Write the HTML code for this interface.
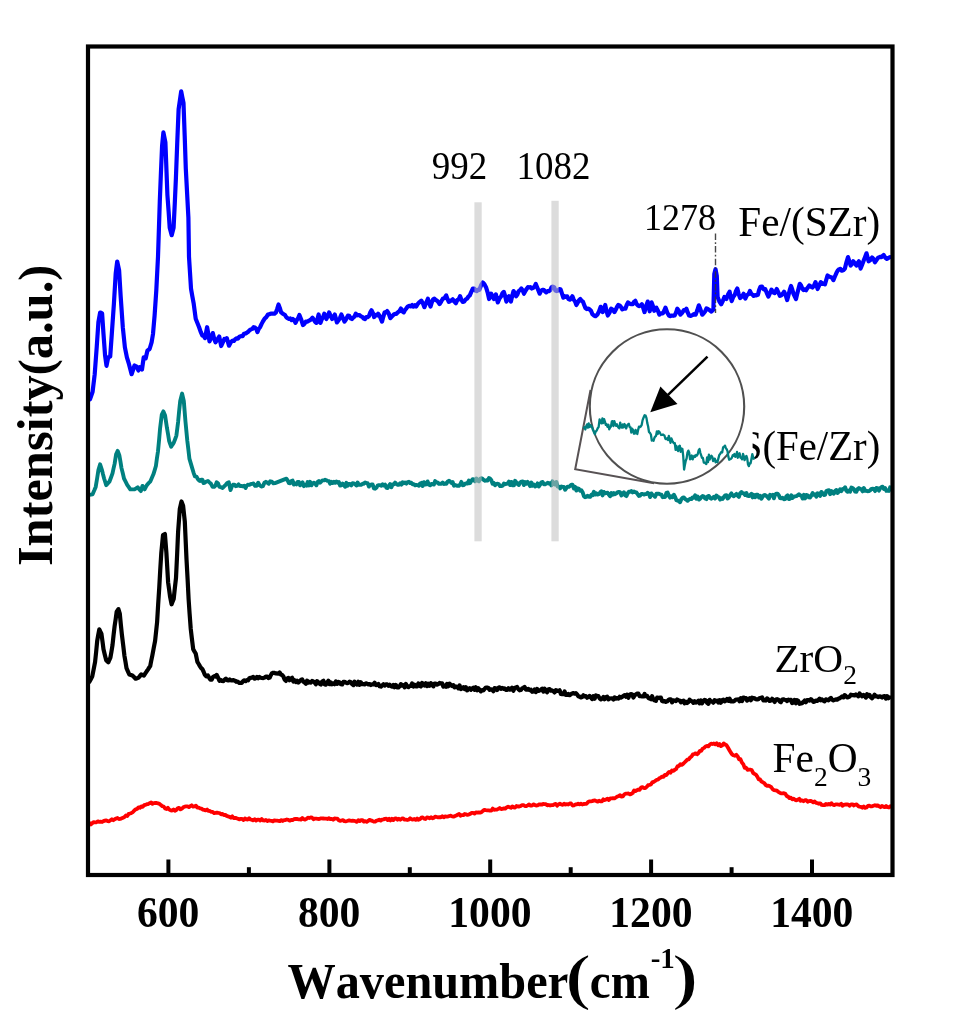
<!DOCTYPE html>
<html><head><meta charset="utf-8"><title>Raman spectra</title>
<style>
html,body{margin:0;padding:0;background:#fff;}
body{width:954px;height:1035px;overflow:hidden;}
svg{display:block;filter:blur(0.45px);}
text{font-family:"Liberation Serif","Times New Roman",serif;fill:#000;font-kerning:none;}
.b{font-weight:bold;}
.curve{fill:none;stroke-linejoin:round;stroke-linecap:round;}
</style></head><body>
<svg width="954" height="1035" viewBox="0 0 954 1035">
<rect width="954" height="1035" fill="#fff"/>
<!-- curves -->
<path class="curve" d="M88.1,824.5 L89.5,823.1 L90.9,824.5 L92.3,823.1 L93.7,822.1 L95.1,822.3 L96.5,822.3 L97.9,821.3 L99.3,821.9 L100.7,821.7 L102.1,822.0 L103.5,821.1 L104.9,820.6 L106.3,820.3 L107.7,821.1 L109.1,821.3 L110.5,820.3 L111.9,819.3 L113.3,820.2 L114.7,819.2 L116.1,818.5 L117.5,818.0 L118.9,819.0 L120.3,818.9 L121.7,818.3 L123.1,817.7 L124.5,817.1 L125.9,815.5 L127.3,816.0 L128.7,813.9 L130.1,813.5 L131.5,812.9 L132.9,812.1 L134.3,810.5 L135.7,809.3 L137.1,808.9 L138.5,807.3 L139.9,807.8 L141.3,806.4 L142.7,806.8 L144.1,805.2 L145.5,804.9 L146.9,804.2 L148.3,804.0 L149.7,803.1 L151.1,802.4 L152.5,803.8 L153.9,803.1 L155.3,802.9 L156.7,803.0 L158.1,803.4 L159.5,803.8 L160.9,805.1 L162.3,806.2 L163.7,806.5 L165.1,808.5 L166.5,809.0 L167.9,807.8 L169.3,809.6 L170.7,810.3 L172.1,810.5 L173.5,809.5 L174.9,810.7 L176.3,810.0 L177.7,808.3 L179.1,807.8 L180.5,809.4 L181.9,808.6 L183.3,807.3 L184.7,806.6 L186.1,806.4 L187.5,806.3 L188.9,807.1 L190.3,806.1 L191.7,805.3 L193.1,806.6 L194.5,806.4 L195.9,805.6 L197.3,807.5 L198.7,807.6 L200.1,808.4 L201.5,808.7 L202.9,809.6 L204.3,809.9 L205.7,810.4 L207.1,809.5 L208.5,810.9 L209.9,811.0 L211.3,811.9 L212.7,811.8 L214.1,813.1 L215.5,812.9 L216.9,812.6 L218.3,812.9 L219.7,813.1 L221.1,814.3 L222.5,813.9 L223.9,815.0 L225.3,814.9 L226.7,815.9 L228.1,816.4 L229.5,816.8 L230.9,817.7 L232.3,816.3 L233.7,818.1 L235.1,817.8 L236.5,818.2 L237.9,818.7 L239.3,819.4 L240.7,818.8 L242.1,818.9 L243.5,820.0 L244.9,818.4 L246.3,819.4 L247.7,819.5 L249.1,818.3 L250.5,819.5 L251.9,819.8 L253.3,820.4 L254.7,819.2 L256.1,820.5 L257.5,819.7 L258.9,819.7 L260.3,820.6 L261.7,819.0 L263.1,820.4 L264.5,820.5 L265.9,820.0 L267.3,821.1 L268.7,820.3 L270.1,820.6 L271.5,820.8 L272.9,821.4 L274.3,820.4 L275.7,820.7 L277.1,820.6 L278.5,820.8 L279.9,821.2 L281.3,820.1 L282.7,821.0 L284.1,820.1 L285.5,820.1 L286.9,819.5 L288.3,819.8 L289.7,820.7 L291.1,820.0 L292.5,820.2 L293.9,819.2 L295.3,819.0 L296.7,818.8 L298.1,819.3 L299.5,819.4 L300.9,819.6 L302.3,818.1 L303.7,819.2 L305.1,819.6 L306.5,818.9 L307.9,817.7 L309.3,818.0 L310.7,817.4 L312.1,817.7 L313.5,819.2 L314.9,818.6 L316.3,818.6 L317.7,818.8 L319.1,819.0 L320.5,818.4 L321.9,818.3 L323.3,818.5 L324.7,818.7 L326.1,818.7 L327.5,819.0 L328.9,818.2 L330.3,819.1 L331.7,818.9 L333.1,819.7 L334.5,818.5 L335.9,818.7 L337.3,818.6 L338.7,820.2 L340.1,820.9 L341.5,820.5 L342.9,820.1 L344.3,821.1 L345.7,821.3 L347.1,821.0 L348.5,820.5 L349.9,820.5 L351.3,820.8 L352.7,820.6 L354.1,820.8 L355.5,821.3 L356.9,821.9 L358.3,820.2 L359.7,821.1 L361.1,820.1 L362.5,820.1 L363.9,821.6 L365.3,821.2 L366.7,821.8 L368.1,820.9 L369.5,819.8 L370.9,820.4 L372.3,820.9 L373.7,821.6 L375.1,821.7 L376.5,820.6 L377.9,820.3 L379.3,819.6 L380.7,820.6 L382.1,819.7 L383.5,819.4 L384.9,818.9 L386.3,818.7 L387.7,820.0 L389.1,818.8 L390.5,820.4 L391.9,818.7 L393.3,820.1 L394.7,818.7 L396.1,818.3 L397.5,819.7 L398.9,818.8 L400.3,819.7 L401.7,818.7 L403.1,818.3 L404.5,819.7 L405.9,819.7 L407.3,820.0 L408.7,819.7 L410.1,818.3 L411.5,819.3 L412.9,819.5 L414.3,819.0 L415.7,819.9 L417.1,818.5 L418.5,819.8 L419.9,819.3 L421.3,817.7 L422.7,817.4 L424.1,818.6 L425.5,819.0 L426.9,817.4 L428.3,817.6 L429.7,818.4 L431.1,817.2 L432.5,818.4 L433.9,817.7 L435.3,816.6 L436.7,817.0 L438.1,817.4 L439.5,817.1 L440.9,817.4 L442.3,816.2 L443.7,817.3 L445.1,816.4 L446.5,816.7 L447.9,816.6 L449.3,816.0 L450.7,815.7 L452.1,816.4 L453.5,816.6 L454.9,816.1 L456.3,815.5 L457.7,814.7 L459.1,814.0 L460.5,815.7 L461.9,815.1 L463.3,815.2 L464.7,814.0 L466.1,814.3 L467.5,814.9 L468.9,814.5 L470.3,813.8 L471.7,812.9 L473.1,812.8 L474.5,813.6 L475.9,812.3 L477.3,812.6 L478.7,812.3 L480.1,812.6 L481.5,812.2 L482.9,810.9 L484.3,809.9 L485.7,810.2 L487.1,810.3 L488.5,810.4 L489.9,810.7 L491.3,810.6 L492.7,808.6 L494.1,809.8 L495.5,809.7 L496.9,809.6 L498.3,808.9 L499.7,808.0 L501.1,809.0 L502.5,808.8 L503.9,808.4 L505.3,808.7 L506.7,807.4 L508.1,806.6 L509.5,807.3 L510.9,807.8 L512.3,806.4 L513.7,807.3 L515.1,807.6 L516.5,806.0 L517.9,806.5 L519.3,806.5 L520.7,806.0 L522.1,805.2 L523.5,805.1 L524.9,806.0 L526.3,806.1 L527.7,805.3 L529.1,804.4 L530.5,805.7 L531.9,805.6 L533.3,804.4 L534.7,804.9 L536.1,805.5 L537.5,805.4 L538.9,804.5 L540.3,804.3 L541.7,804.7 L543.1,804.0 L544.5,804.1 L545.9,804.2 L547.3,805.4 L548.7,805.0 L550.1,805.5 L551.5,805.1 L552.9,805.2 L554.3,804.3 L555.7,803.9 L557.1,805.7 L558.5,804.4 L559.9,803.6 L561.3,804.5 L562.7,804.9 L564.1,803.7 L565.5,804.5 L566.9,804.1 L568.3,804.5 L569.7,803.5 L571.1,803.5 L572.5,805.5 L573.9,805.4 L575.3,804.5 L576.7,804.4 L578.1,803.6 L579.5,804.4 L580.9,803.6 L582.3,804.5 L583.7,804.0 L585.1,803.8 L586.5,803.9 L587.9,802.2 L589.3,801.3 L590.7,801.4 L592.1,801.1 L593.5,800.6 L594.9,800.3 L596.3,801.1 L597.7,801.7 L599.1,800.7 L600.5,801.4 L601.9,801.3 L603.3,799.3 L604.7,800.1 L606.1,799.5 L607.5,798.7 L608.9,800.0 L610.3,798.3 L611.7,798.4 L613.1,798.2 L614.5,798.4 L615.9,797.5 L617.3,796.5 L618.7,796.1 L620.1,795.2 L621.5,796.5 L622.9,796.3 L624.3,794.4 L625.7,793.6 L627.1,793.6 L628.5,793.5 L629.9,794.4 L631.3,793.9 L632.7,793.0 L634.1,790.5 L635.5,791.1 L636.9,790.2 L638.3,789.6 L639.7,789.8 L641.1,787.6 L642.5,787.1 L643.9,788.0 L645.3,788.1 L646.7,786.9 L648.1,785.2 L649.5,784.9 L650.9,784.5 L652.3,782.4 L653.7,781.9 L655.1,781.0 L656.5,779.9 L657.9,779.7 L659.3,778.3 L660.7,777.6 L662.1,776.6 L663.5,776.8 L664.9,774.8 L666.3,775.2 L667.7,773.3 L669.1,771.9 L670.5,772.7 L671.9,770.5 L673.3,770.9 L674.7,769.9 L676.1,769.0 L677.5,766.4 L678.9,765.9 L680.3,764.3 L681.7,764.9 L683.1,763.9 L684.5,762.5 L685.9,761.1 L687.3,759.7 L688.7,759.4 L690.1,757.5 L691.5,756.5 L692.9,754.4 L694.3,754.0 L695.7,753.3 L697.1,754.2 L698.5,753.0 L699.9,750.8 L701.3,750.8 L702.7,748.6 L704.1,747.9 L705.5,746.5 L706.9,745.9 L708.3,746.4 L709.7,744.8 L711.1,743.6 L712.5,744.0 L713.9,743.5 L715.3,744.4 L716.7,743.2 L718.1,745.3 L719.5,744.1 L720.9,746.1 L722.3,745.3 L723.7,743.4 L725.1,744.5 L726.5,745.2 L727.9,747.5 L729.3,750.0 L730.7,752.4 L732.1,754.4 L733.5,755.3 L734.9,755.8 L736.3,754.8 L737.7,756.4 L739.1,759.3 L740.5,759.2 L741.9,762.6 L743.3,764.2 L744.7,767.9 L746.1,767.7 L747.5,769.8 L748.9,769.6 L750.3,769.7 L751.7,770.0 L753.1,772.9 L754.5,773.9 L755.9,774.7 L757.3,776.7 L758.7,779.3 L760.1,779.5 L761.5,781.6 L762.9,782.3 L764.3,783.1 L765.7,785.0 L767.1,785.8 L768.5,785.6 L769.9,786.3 L771.3,787.2 L772.7,789.3 L774.1,790.1 L775.5,790.3 L776.9,790.6 L778.3,791.9 L779.7,792.7 L781.1,793.4 L782.5,793.4 L783.9,793.2 L785.3,793.8 L786.7,796.1 L788.1,796.6 L789.5,798.1 L790.9,797.7 L792.3,799.4 L793.7,798.7 L795.1,799.9 L796.5,800.3 L797.9,799.7 L799.3,798.8 L800.7,800.8 L802.1,800.3 L803.5,801.2 L804.9,800.2 L806.3,800.2 L807.7,801.7 L809.1,801.1 L810.5,800.8 L811.9,801.4 L813.3,802.3 L814.7,801.5 L816.1,802.9 L817.5,803.2 L818.9,803.8 L820.3,803.3 L821.7,804.9 L823.1,805.1 L824.5,805.2 L825.9,804.0 L827.3,804.7 L828.7,804.0 L830.1,804.6 L831.5,803.2 L832.9,804.7 L834.3,805.1 L835.7,804.3 L837.1,804.4 L838.5,804.6 L839.9,804.8 L841.3,803.8 L842.7,805.8 L844.1,804.6 L845.5,804.5 L846.9,804.3 L848.3,804.6 L849.7,805.8 L851.1,804.3 L852.5,804.3 L853.9,805.5 L855.3,804.6 L856.7,804.5 L858.1,806.1 L859.5,806.6 L860.9,806.9 L862.3,807.7 L863.7,806.5 L865.1,807.8 L866.5,807.5 L867.9,805.9 L869.3,805.7 L870.7,806.4 L872.1,806.3 L873.5,805.7 L874.9,805.2 L876.3,805.8 L877.7,805.4 L879.1,806.4 L880.5,807.2 L881.9,805.9 L883.3,806.7 L884.7,807.2 L886.1,806.0 L887.5,807.2 L888.9,807.5 L890.3,806.3" stroke="#ff0000" stroke-width="3.8"/>
<path class="curve" d="M89.4,681.8 L90.8,679.2 L92.2,676.6 L93.7,669.2 L95.1,661.9 L96.2,651.4 L97.2,640.9 L98.2,635.1 L99.3,629.4 L100.3,631.5 L101.4,633.6 L102.5,641.5 L103.5,649.3 L104.8,654.8 L106.2,660.2 L107.2,661.2 L108.3,662.3 L109.3,660.0 L110.4,657.7 L111.5,651.4 L112.5,645.1 L113.5,635.7 L114.6,626.3 L115.7,619.0 L116.7,611.6 L118.4,609.1 L119.8,613.7 L120.8,624.2 L121.9,634.7 L123.2,645.2 L124.4,655.6 L125.5,661.9 L126.5,668.2 L127.9,671.4 L129.3,674.5 L130.9,675.0 L132.4,675.5 L134.0,677.1 L135.6,678.7 L137.1,678.2 L138.7,677.6 L139.9,676.0 L141.2,674.5 L142.6,675.0 L143.9,675.5 L145.3,673.4 L146.7,671.3 L147.9,669.6 L149.0,667.8 L150.2,666.1 L151.2,660.9 L152.3,655.6 L153.7,648.2 L155.1,640.9 L156.1,631.5 L157.1,622.1 L158.1,605.3 L159.2,588.5 L160.2,570.7 L161.3,552.9 L163.0,535.1 L164.9,534.0 L166.4,552.9 L168.1,582.2 L169.1,589.5 L170.1,596.9 L171.6,604.3 L172.6,601.6 L173.7,599.0 L174.8,588.5 L176.0,578.1 L177.1,555.0 L178.1,531.9 L179.8,508.9 L181.5,501.5 L183.1,505.7 L184.8,521.4 L186.5,559.2 L187.6,579.1 L188.6,599.0 L189.6,613.7 L190.7,628.4 L191.9,638.8 L193.2,649.3 L194.4,651.4 L195.7,653.5 L197.4,661.9 L198.7,664.0 L199.9,666.1 L201.2,668.2 L202.4,669.2 L203.5,671.5 L204.7,674.5 L206.3,676.3 L207.9,675.5 L209.2,677.8 L210.4,679.7 L211.7,679.7 L212.9,677.0 L214.2,676.2 L215.4,676.6 L216.7,674.9 L218.1,677.7 L219.4,680.8 L220.7,679.9 L222.1,681.0 L223.4,681.2 L224.7,679.7 L225.9,678.7 L227.2,680.2 L228.4,680.5 L229.7,679.5 L230.9,680.4 L232.2,680.4 L233.6,680.1 L234.9,680.6 L236.2,681.8 L237.6,681.5 L239.0,682.8 L240.4,682.9 L241.7,682.9 L243.0,681.2 L244.3,680.3 L245.6,681.2 L246.9,680.0 L248.1,680.3 L249.4,678.2 L250.6,677.8 L251.9,677.6 L253.2,676.9 L254.4,678.7 L255.7,678.2 L256.9,676.9 L258.2,678.3 L259.5,677.0 L260.7,677.7 L262.0,678.0 L263.2,678.1 L264.5,677.6 L265.8,676.5 L267.1,676.7 L268.4,678.1 L269.7,677.6 L270.8,675.2 L271.8,673.4 L273.2,672.8 L274.6,672.9 L276.0,673.4 L278.4,673.7 L279.6,672.5 L280.9,674.5 L282.1,675.0 L283.4,676.4 L284.6,679.5 L285.9,680.9 L287.1,678.6 L288.4,677.9 L289.6,680.2 L290.9,678.5 L292.1,677.8 L293.4,681.6 L294.6,680.3 L295.9,682.0 L297.1,680.7 L298.4,682.6 L299.6,681.2 L300.9,680.0 L302.1,679.4 L303.4,681.7 L304.6,682.4 L305.9,683.7 L307.1,680.6 L308.4,682.6 L309.6,681.9 L310.9,682.5 L312.1,681.0 L313.4,681.5 L314.6,682.5 L315.9,684.3 L317.1,681.1 L318.4,682.3 L319.6,683.7 L320.9,684.6 L322.1,681.5 L323.4,680.8 L324.6,684.2 L325.9,684.7 L327.1,682.7 L328.4,680.8 L329.6,684.2 L330.9,682.4 L332.1,684.3 L333.4,683.4 L334.6,684.2 L335.9,681.5 L337.1,683.9 L338.4,681.8 L339.6,682.4 L340.9,684.3 L342.1,684.5 L343.4,681.8 L344.6,681.8 L345.9,682.6 L347.1,683.2 L348.4,682.7 L349.6,681.6 L350.9,682.1 L352.1,684.1 L353.4,685.1 L354.6,681.7 L355.9,683.5 L357.1,684.6 L358.4,681.8 L359.6,684.9 L360.9,682.3 L362.1,684.1 L363.4,684.1 L364.6,684.5 L365.9,683.3 L367.1,683.7 L368.4,684.5 L369.6,684.0 L370.9,685.0 L372.1,684.3 L373.4,684.3 L374.6,682.7 L375.9,685.1 L377.1,684.9 L378.4,684.0 L379.6,686.2 L380.9,686.6 L382.1,685.5 L383.4,684.3 L384.6,685.6 L385.9,684.3 L387.1,684.4 L388.4,685.8 L389.6,684.7 L390.9,686.1 L392.1,686.7 L393.4,684.9 L394.6,687.2 L395.9,685.0 L397.1,687.3 L398.4,687.5 L399.6,686.3 L400.9,684.1 L402.1,685.6 L403.4,685.1 L404.6,687.3 L405.9,684.0 L407.1,686.5 L408.4,687.1 L409.6,686.0 L410.9,686.0 L412.1,683.5 L413.4,686.5 L414.6,684.8 L415.9,686.5 L417.1,686.5 L418.4,683.4 L419.6,685.7 L420.9,686.5 L422.1,683.0 L423.4,683.8 L424.6,685.6 L425.9,683.3 L427.1,686.1 L428.4,683.8 L429.6,685.8 L430.9,683.2 L432.1,684.5 L433.4,686.4 L434.6,683.7 L435.9,683.7 L437.1,684.7 L438.4,684.1 L439.6,682.9 L440.9,683.4 L442.1,683.4 L443.4,686.6 L444.6,685.9 L445.9,686.8 L447.1,683.9 L448.4,686.2 L449.6,683.7 L450.9,685.2 L452.1,686.0 L453.4,685.1 L454.6,687.4 L455.9,686.5 L457.1,686.8 L458.4,688.3 L459.6,685.5 L460.9,689.1 L462.1,688.2 L463.4,687.3 L464.6,689.1 L465.9,687.3 L467.1,690.4 L468.4,689.1 L469.6,688.2 L470.9,689.8 L472.1,688.7 L473.4,687.6 L474.6,689.9 L475.9,687.3 L477.1,690.3 L478.4,688.3 L479.6,689.8 L480.9,691.4 L482.1,690.0 L483.4,690.3 L484.6,688.9 L485.9,687.5 L487.1,687.5 L488.4,687.9 L489.6,689.9 L490.9,689.4 L492.1,689.6 L493.4,691.2 L494.6,688.2 L495.9,688.3 L497.1,690.1 L498.4,687.7 L499.6,687.3 L500.9,688.8 L502.1,687.9 L503.4,688.8 L504.6,688.4 L505.9,689.8 L507.1,689.9 L508.4,688.2 L509.6,689.7 L510.9,689.2 L512.1,687.6 L513.4,690.7 L514.6,688.1 L515.9,687.4 L517.1,687.0 L518.4,689.2 L519.6,690.3 L520.9,690.0 L522.1,688.4 L523.4,687.8 L524.6,686.9 L525.9,689.6 L527.1,689.7 L528.4,688.9 L529.6,690.2 L530.9,689.7 L532.1,691.8 L533.4,691.4 L534.6,689.5 L535.9,692.1 L537.1,689.0 L538.4,690.9 L539.6,690.5 L540.9,689.7 L542.1,688.8 L543.4,691.6 L544.6,688.7 L545.9,690.6 L547.1,692.3 L548.4,689.2 L549.6,689.0 L550.9,690.7 L552.1,690.4 L553.4,691.3 L554.6,692.4 L555.9,690.1 L557.1,690.7 L558.4,691.0 L559.6,690.3 L560.9,694.0 L562.1,694.2 L563.4,694.2 L564.6,691.5 L565.9,694.9 L567.1,695.0 L568.4,694.0 L569.6,695.2 L570.9,694.3 L572.1,693.4 L573.4,693.0 L574.6,693.7 L575.9,693.1 L577.1,694.4 L578.4,696.4 L579.6,696.6 L580.9,697.4 L582.1,697.0 L583.4,695.3 L584.6,696.4 L585.9,696.2 L587.1,697.7 L588.4,696.9 L589.6,695.9 L590.9,697.5 L592.1,699.1 L593.4,696.2 L594.6,698.7 L595.9,695.4 L597.1,696.1 L598.4,696.2 L599.6,698.3 L600.9,699.4 L602.1,698.7 L603.4,697.0 L604.6,699.2 L605.9,697.1 L607.1,696.6 L608.4,699.4 L609.6,698.4 L610.9,698.5 L612.1,698.3 L613.4,699.5 L614.6,697.4 L615.9,698.6 L617.1,698.0 L618.4,698.6 L619.6,696.8 L620.9,697.7 L622.1,697.0 L623.4,695.8 L624.6,695.2 L625.9,696.7 L627.1,694.6 L628.4,697.8 L629.6,694.8 L630.9,694.0 L632.1,694.2 L633.4,697.6 L634.6,695.4 L635.9,694.3 L637.1,693.7 L638.4,693.6 L639.6,696.2 L640.9,696.2 L642.1,696.4 L643.4,696.5 L644.6,694.0 L645.9,696.2 L647.1,695.8 L648.4,698.0 L649.6,698.5 L650.9,699.2 L652.1,696.2 L653.4,699.6 L654.6,700.4 L655.9,700.9 L657.1,697.6 L658.4,697.9 L659.6,697.7 L660.9,697.6 L662.1,701.1 L663.4,701.5 L664.6,701.0 L665.9,701.9 L667.1,701.4 L668.4,700.1 L669.6,699.3 L670.9,699.4 L672.1,702.4 L673.4,700.4 L674.6,700.6 L675.9,701.1 L677.1,699.5 L678.4,700.3 L679.6,700.5 L680.9,702.3 L682.1,701.0 L683.4,700.7 L684.6,703.3 L685.9,701.7 L687.1,703.0 L688.4,702.1 L689.6,699.6 L690.9,701.0 L692.1,701.3 L693.4,702.8 L694.6,701.2 L695.9,702.6 L697.1,702.1 L698.4,700.8 L699.6,703.4 L700.9,700.5 L702.1,703.3 L703.4,700.8 L704.6,699.8 L705.9,700.4 L707.1,702.8 L708.4,703.8 L709.6,699.8 L710.9,701.4 L712.1,701.5 L713.4,702.7 L714.6,700.2 L715.9,701.2 L717.1,700.6 L718.4,702.5 L719.6,700.2 L720.9,702.7 L722.1,700.2 L723.4,699.6 L724.6,701.4 L725.9,700.7 L727.1,699.0 L728.4,700.9 L729.6,698.7 L730.9,701.4 L732.1,701.2 L733.4,701.5 L734.6,700.8 L735.9,699.5 L737.1,699.5 L738.4,699.4 L739.6,701.3 L740.9,698.1 L742.1,701.0 L743.4,697.6 L744.6,697.9 L745.9,698.0 L747.1,700.6 L748.4,699.0 L749.6,698.3 L750.9,700.2 L752.1,697.6 L753.4,698.1 L754.6,698.4 L755.9,699.2 L757.1,699.4 L758.4,699.1 L759.6,698.0 L760.9,698.0 L762.1,697.4 L763.4,700.4 L764.6,700.1 L765.9,700.5 L767.1,698.4 L768.4,699.4 L769.6,701.0 L770.9,700.6 L772.1,698.8 L773.4,700.1 L774.6,702.0 L775.9,699.6 L777.1,699.2 L778.4,699.7 L779.6,701.4 L780.9,702.2 L782.1,699.5 L783.4,699.3 L784.6,699.7 L785.9,700.1 L787.1,701.0 L788.4,699.6 L789.6,700.2 L790.9,699.8 L792.1,703.1 L793.4,702.5 L794.6,699.9 L795.9,703.3 L797.1,700.2 L798.4,701.1 L799.6,703.8 L800.9,703.4 L802.1,703.1 L803.4,701.9 L804.6,700.6 L805.9,702.2 L807.1,700.0 L808.4,700.1 L809.6,700.7 L810.9,699.1 L812.1,700.3 L813.4,701.9 L814.6,701.5 L815.9,700.6 L817.1,700.9 L818.4,700.1 L819.6,698.6 L820.9,700.3 L822.1,699.5 L823.4,700.7 L824.6,701.4 L825.9,699.4 L827.1,699.7 L828.4,700.3 L829.6,698.9 L830.9,697.9 L832.1,699.7 L833.4,700.4 L834.6,699.9 L835.9,699.3 L837.1,699.7 L838.4,698.8 L839.6,698.3 L840.9,697.3 L842.1,696.4 L843.4,697.4 L844.6,695.1 L845.9,696.0 L847.1,697.4 L848.4,697.1 L849.6,696.5 L850.9,694.7 L852.1,695.1 L853.4,695.0 L854.6,695.5 L855.9,694.5 L857.1,695.3 L858.4,696.3 L859.6,693.5 L860.9,695.3 L862.1,696.2 L863.4,694.9 L864.6,695.4 L865.9,697.6 L867.1,694.2 L868.4,696.1 L869.6,694.9 L870.9,697.4 L872.1,698.3 L873.4,696.6 L874.6,694.7 L875.9,696.4 L877.1,696.4 L878.4,697.1 L879.6,696.3 L880.9,696.8 L882.1,697.6 L883.4,696.3 L884.6,696.1 L885.9,698.6 L887.1,696.1 L888.4,698.2 L889.6,697.5" stroke="#000" stroke-width="4.2"/>
<path class="curve" d="M89.4,494.9 L91.0,494.6 L92.6,494.3 L94.2,490.6 L95.7,486.9 L97.1,478.5 L98.4,470.1 L100.1,464.3 L102.0,470.1 L103.0,474.3 L104.1,478.5 L105.2,481.9 L106.2,485.2 L107.8,483.4 L109.4,481.7 L111.0,477.5 L112.5,473.3 L113.5,468.6 L114.6,463.9 L116.1,454.4 L117.7,450.9 L119.4,455.5 L120.5,461.8 L121.5,468.1 L122.8,473.3 L124.0,478.5 L125.6,481.6 L127.2,484.8 L128.8,487.1 L130.3,489.4 L131.7,489.4 L133.1,489.4 L134.5,489.4 L136.1,488.4 L137.7,487.3 L139.2,489.2 L140.8,491.1 L142.5,485.9 L143.6,487.6 L144.6,489.4 L145.8,487.1 L147.1,484.8 L148.6,483.2 L150.2,481.7 L151.8,478.0 L153.4,474.3 L154.7,470.1 L155.9,466.0 L156.9,458.6 L158.0,451.3 L159.1,439.8 L160.1,428.2 L161.8,414.6 L163.4,411.4 L165.1,415.6 L167.0,428.2 L168.1,434.5 L169.1,440.8 L170.1,443.8 L171.2,446.7 L172.4,444.8 L173.7,442.9 L175.1,439.2 L176.4,435.6 L178.1,421.9 L179.1,411.4 L180.2,401.0 L182.1,393.6 L183.8,401.0 L185.5,421.9 L187.3,440.8 L188.4,449.7 L189.4,458.6 L190.8,463.4 L192.2,468.1 L193.6,472.8 L194.9,476.4 L196.4,476.6 L197.8,479.0 L198.9,480.4 L200.1,480.9 L201.2,479.6 L202.4,479.7 L203.5,483.1 L204.7,482.7 L206.3,481.5 L207.9,481.0 L209.4,482.4 L211.0,483.8 L212.6,486.9 L214.2,486.9 L215.4,485.7 L216.7,482.3 L218.1,483.5 L219.4,486.9 L221.0,487.2 L222.6,488.0 L224.1,486.4 L225.7,484.8 L227.2,483.0 L228.8,482.3 L230.5,490.1 L231.8,486.5 L233.0,484.8 L234.4,484.6 L235.8,486.2 L237.2,485.9 L238.6,484.4 L240.0,486.1 L241.4,485.9 L242.8,486.4 L244.2,485.8 L245.6,488.0 L246.6,485.9 L247.7,484.8 L249.1,484.9 L250.5,484.2 L251.9,483.8 L253.5,483.5 L255.1,485.9 L256.6,485.9 L258.2,482.7 L259.8,485.5 L261.3,486.5 L262.9,486.1 L264.5,482.7 L265.9,481.8 L267.3,482.7 L268.7,483.8 L270.2,481.3 L271.8,481.7 L273.4,483.3 L275.0,483.1 L285.1,479.1 L286.4,478.7 L287.6,480.4 L288.9,483.2 L290.1,483.4 L291.4,481.0 L292.6,480.6 L293.9,484.6 L295.1,483.6 L296.4,484.5 L297.6,481.9 L298.9,481.9 L300.1,485.3 L301.4,484.2 L302.6,482.3 L303.9,486.2 L305.1,485.0 L306.4,485.6 L307.6,482.1 L308.9,485.4 L310.1,481.8 L311.4,485.3 L312.6,483.5 L313.9,482.7 L315.1,483.5 L316.4,485.3 L317.6,482.1 L318.9,481.0 L320.1,482.7 L321.4,481.3 L322.6,480.4 L323.9,480.4 L325.1,479.8 L326.4,480.3 L327.6,480.9 L328.9,481.2 L330.1,483.7 L331.4,481.9 L332.6,483.0 L333.9,481.8 L335.1,482.8 L336.4,481.5 L337.6,482.8 L338.9,482.0 L340.1,485.6 L341.4,485.4 L342.6,483.6 L343.9,484.7 L345.1,486.8 L346.4,482.8 L347.6,485.7 L348.9,484.0 L350.1,483.9 L351.4,485.4 L352.6,483.2 L353.9,483.4 L355.1,484.1 L356.4,485.5 L357.6,482.5 L358.9,484.9 L360.1,484.8 L361.4,484.7 L362.6,483.8 L363.9,483.7 L365.1,482.5 L366.4,483.1 L367.6,483.1 L368.9,486.6 L370.1,484.9 L371.4,484.5 L372.6,484.4 L373.9,488.3 L375.1,488.7 L376.4,487.7 L377.6,485.6 L378.9,485.1 L380.1,485.1 L381.4,485.8 L382.6,484.3 L383.9,485.5 L385.1,484.6 L386.4,487.8 L387.6,488.0 L388.9,485.9 L390.1,484.1 L391.4,487.3 L392.6,484.4 L393.9,484.3 L395.1,482.5 L396.4,484.1 L397.6,484.7 L398.9,484.8 L400.1,483.3 L401.4,484.6 L402.6,482.2 L403.9,483.2 L405.1,482.4 L406.4,483.7 L407.6,482.1 L408.9,481.8 L410.1,483.0 L411.4,482.8 L412.6,484.4 L413.9,484.2 L415.1,485.3 L416.4,484.9 L417.6,485.1 L418.9,485.8 L420.1,483.5 L421.4,482.9 L422.6,486.0 L423.9,482.2 L425.1,484.6 L426.4,484.3 L427.6,481.4 L428.9,484.8 L430.1,485.3 L431.4,483.9 L432.6,484.2 L433.9,484.5 L435.1,481.1 L436.4,482.5 L437.6,482.5 L438.9,483.9 L440.1,483.8 L441.4,483.8 L442.6,482.5 L443.9,484.1 L445.1,483.5 L446.4,483.7 L447.6,481.7 L448.9,480.8 L450.1,481.5 L451.4,482.9 L452.6,482.0 L453.9,485.7 L455.1,485.0 L456.4,485.5 L457.6,485.8 L458.9,485.9 L460.1,484.7 L461.4,481.9 L462.6,485.2 L463.9,485.1 L465.1,483.6 L466.4,483.3 L467.6,483.6 L468.9,480.5 L470.1,483.1 L471.4,480.8 L472.6,479.2 L473.9,479.5 L475.1,481.3 L476.4,478.5 L477.6,480.4 L478.9,481.3 L480.1,478.8 L481.4,478.2 L482.6,478.8 L483.9,480.1 L485.1,480.8 L486.4,480.3 L487.6,480.6 L488.9,478.1 L490.1,478.6 L491.4,480.3 L492.6,483.8 L493.9,483.1 L495.1,485.3 L496.4,483.8 L497.6,483.6 L498.9,484.3 L500.1,486.1 L501.4,486.1 L502.6,485.7 L503.9,483.6 L505.1,484.2 L506.4,483.8 L507.6,483.5 L508.9,481.6 L510.1,485.1 L511.4,481.9 L512.6,485.3 L513.9,485.4 L515.1,480.8 L516.4,482.4 L517.6,484.2 L518.9,485.0 L520.1,482.5 L521.4,481.6 L522.6,481.4 L523.9,485.1 L525.1,482.0 L526.4,483.7 L527.6,481.9 L528.9,483.7 L530.1,486.1 L531.4,482.5 L532.6,485.7 L533.9,484.6 L535.1,486.5 L536.4,485.8 L537.6,483.4 L538.9,486.4 L540.1,484.7 L541.4,482.3 L542.6,482.0 L543.9,484.3 L545.1,484.3 L546.4,483.6 L547.6,482.8 L548.9,483.5 L550.1,483.2 L551.4,485.4 L552.6,481.3 L553.9,484.2 L555.1,484.6 L556.4,482.1 L557.6,486.6 L558.9,486.8 L560.1,488.5 L561.4,486.5 L562.6,486.9 L563.9,486.9 L565.1,489.8 L566.4,488.0 L567.6,486.6 L568.9,486.8 L570.1,486.0 L571.4,484.7 L572.6,484.8 L573.9,488.5 L575.1,486.9 L576.4,490.6 L577.6,488.3 L578.9,488.8 L580.1,490.7 L581.4,490.3 L582.6,492.2 L583.9,496.2 L585.1,497.2 L586.4,496.8 L587.6,495.7 L588.9,496.8 L590.1,496.9 L591.4,494.8 L592.6,495.2 L593.9,491.8 L595.1,494.6 L596.4,493.3 L597.6,494.5 L598.9,494.2 L600.1,492.5 L601.4,491.2 L602.6,495.4 L603.9,491.9 L605.1,493.3 L606.4,492.9 L607.6,492.7 L608.9,494.8 L610.1,496.2 L611.4,493.0 L612.6,494.6 L613.9,493.1 L615.1,494.2 L616.4,493.4 L617.6,492.2 L618.9,492.0 L620.1,492.2 L621.4,495.5 L622.6,493.8 L623.9,492.3 L625.1,495.4 L626.4,496.1 L627.6,493.5 L628.9,491.7 L630.1,491.7 L631.4,491.1 L632.6,492.4 L633.9,491.5 L635.1,492.2 L636.4,492.5 L637.6,494.1 L638.9,496.0 L640.1,495.6 L641.4,494.0 L642.6,494.0 L643.9,494.6 L645.1,494.1 L646.4,494.0 L647.6,492.7 L648.9,493.7 L650.1,497.1 L651.4,493.4 L652.6,494.9 L653.9,495.6 L655.1,496.8 L656.4,493.8 L657.6,493.8 L658.9,493.7 L660.1,494.4 L661.4,494.7 L662.6,497.2 L663.9,496.9 L665.1,497.0 L666.4,492.9 L667.6,492.5 L668.9,495.8 L670.1,497.6 L671.4,496.2 L672.6,497.1 L673.9,494.8 L675.1,496.9 L676.4,500.2 L677.6,500.6 L678.9,501.2 L680.1,502.3 L681.4,499.0 L682.6,497.7 L683.9,497.5 L685.1,499.0 L686.4,499.7 L687.6,500.8 L688.9,499.6 L690.1,498.8 L691.4,499.1 L692.6,497.4 L693.9,497.7 L695.1,495.3 L696.4,498.7 L697.6,496.5 L698.9,499.6 L700.1,498.7 L701.4,497.0 L702.6,496.0 L703.9,496.6 L705.1,498.5 L706.4,499.1 L707.6,496.3 L708.9,495.9 L710.1,498.1 L711.4,498.7 L712.6,497.9 L713.9,496.9 L715.1,498.5 L716.4,495.6 L717.6,496.6 L718.9,497.3 L720.1,499.6 L721.4,498.2 L722.6,499.0 L723.9,497.0 L725.1,495.4 L726.4,495.2 L727.6,498.5 L728.9,497.4 L730.1,495.2 L731.4,493.4 L732.6,495.4 L733.9,496.3 L735.1,495.0 L736.4,493.9 L737.6,495.6 L738.9,496.9 L740.1,493.4 L741.4,492.0 L742.6,493.2 L743.9,493.5 L745.1,495.0 L746.4,493.0 L747.6,495.9 L748.9,496.1 L750.1,495.2 L751.4,493.8 L752.6,497.5 L753.9,494.9 L755.1,497.3 L756.4,494.8 L757.6,494.7 L758.9,497.5 L760.1,495.7 L761.4,498.8 L762.6,496.8 L763.9,495.1 L765.1,495.0 L766.4,495.9 L767.6,497.2 L768.9,498.6 L770.1,494.8 L771.4,495.6 L772.6,494.8 L773.9,498.3 L775.1,494.6 L776.4,493.7 L777.6,493.6 L778.9,495.4 L780.1,498.1 L781.4,498.4 L782.6,497.8 L783.9,499.2 L785.1,499.1 L786.4,496.3 L787.6,495.4 L788.9,499.1 L790.1,498.6 L791.4,495.2 L792.6,497.9 L793.9,496.7 L795.1,496.4 L796.4,496.1 L797.6,495.2 L798.9,494.2 L800.1,495.4 L801.4,495.7 L802.6,498.6 L803.9,494.8 L805.1,498.4 L806.4,495.0 L807.6,495.3 L808.9,497.4 L810.1,497.5 L811.4,495.4 L812.6,493.1 L813.9,494.8 L815.1,494.3 L816.4,496.7 L817.6,493.3 L818.9,493.6 L820.1,496.0 L821.4,491.9 L822.6,493.1 L823.9,495.0 L825.1,494.8 L826.4,491.0 L827.6,490.4 L828.9,490.3 L830.1,494.2 L831.4,491.1 L832.6,493.0 L833.9,493.7 L835.1,490.8 L836.4,490.0 L837.6,493.0 L838.9,491.4 L840.1,489.3 L841.4,491.1 L842.6,489.1 L843.9,488.7 L845.1,487.3 L846.4,490.7 L847.6,491.8 L848.9,490.5 L850.1,491.8 L851.4,487.5 L852.6,488.0 L853.9,489.2 L855.1,491.6 L856.4,491.8 L857.6,489.0 L858.9,488.0 L860.1,488.8 L861.4,489.2 L862.6,491.4 L863.9,488.0 L865.1,490.8 L866.4,490.8 L867.6,491.2 L868.9,491.1 L870.1,490.3 L871.4,488.9 L872.6,488.8 L873.9,489.0 L875.1,491.1 L876.4,488.0 L877.6,488.1 L878.9,490.7 L880.1,488.3 L881.4,487.1 L882.6,486.7 L883.9,489.0 L885.1,488.0 L886.4,490.9 L887.6,490.6 L888.9,491.0 L890.1,487.3" stroke="#008080" stroke-width="3.9"/>
<path class="curve" d="M90.0,399.4 L91.3,395.6 L92.6,391.8 L94.7,374.2 L96.7,347.4 L98.4,322.2 L100.1,312.5 L102.1,313.5 L103.5,334.0 L105.1,355.8 L106.5,365.8 L108.2,357.4 L110.2,356.6 L111.8,334.0 L113.9,303.8 L115.7,273.6 L117.2,261.5 L119.1,270.2 L120.6,295.4 L122.8,327.2 L124.9,347.4 L126.9,357.4 L129.0,364.2 L130.3,369.2 L131.6,374.2 L133.1,369.9 L134.5,365.5 L136.7,366.7 L138.4,370.5 L139.9,367.2 L142.0,369.5 L143.7,357.4 L145.7,358.3 L147.4,350.7 L149.6,349.0 L151.6,342.3 L153.0,334.0 L154.6,315.5 L156.3,290.3 L158.0,256.8 L159.8,201.4 L160.9,173.5 L162.1,145.6 L163.4,132.4 L165.4,142.3 L167.4,194.8 L168.6,211.2 L169.7,227.7 L171.7,235.2 L173.6,227.7 L174.8,203.1 L175.9,178.4 L177.2,143.9 L178.6,109.4 L179.9,100.4 L181.2,91.4 L182.3,97.2 L183.5,102.9 L184.7,135.8 L185.8,168.6 L187.1,193.2 L188.4,217.8 L189.0,256.8 L191.0,288.6 L192.3,296.1 L193.7,303.7 L195.7,318.8 L197.4,323.0 L199.1,327.2 L200.8,332.1 L202.4,335.6 L203.7,336.0 L205.0,338.1 L207.1,327.2 L208.3,333.7 L209.5,341.5 L211.2,337.6 L212.8,333.1 L214.2,338.7 L215.5,342.3 L217.3,339.6 L219.2,336.5 L221.2,346.0 L222.8,342.3 L224.3,339.0 L225.6,339.6 L226.8,338.1 L229.0,345.7 L230.8,342.2 L232.6,340.7 L233.9,341.0 L235.2,339.2 L236.6,338.3 L237.9,338.6 L239.5,336.7 L241.0,336.1 L242.6,336.2 L244.1,333.7 L245.7,333.4 L247.0,332.6 L248.3,331.7 L249.7,330.1 L251.0,329.4 L252.3,328.9 L253.6,327.2 L254.9,327.6 L256.2,328.9 L257.5,332.1 L258.8,328.8 L260.1,327.2 L261.5,324.1 L262.8,321.6 L264.5,318.8 L266.3,317.1 L268.0,314.5 L269.7,314.1 L271.5,313.5 L273.2,313.7 L274.5,313.7 L275.9,312.4 L277.2,308.9 L278.5,304.5 L279.8,307.9 L281.1,312.4 L282.4,313.4 L283.7,314.2 L285.0,315.0 L286.3,317.2 L287.7,318.2 L289.0,319.0 L290.3,318.5 L291.6,320.1 L292.9,319.0 L294.2,320.1 L295.5,322.9 L296.8,320.1 L298.1,318.2 L299.4,315.0 L301.1,319.2 L302.9,325.0 L304.4,323.8 L305.8,321.7 L307.3,321.6 L309.0,320.7 L310.8,319.6 L312.5,317.7 L313.8,319.6 L315.2,322.0 L316.5,322.9 L318.6,314.5 L320.4,322.9 L321.7,319.4 L323.0,317.2 L324.3,313.7 L326.4,319.0 L327.8,315.9 L329.1,312.4 L330.6,315.9 L332.2,319.0 L333.5,316.7 L334.8,314.5 L336.9,322.4 L338.4,320.5 L339.9,318.1 L341.4,314.5 L342.9,318.0 L344.5,321.6 L346.2,319.0 L347.9,315.6 L349.2,315.8 L350.6,318.3 L351.9,319.0 L353.2,317.6 L354.5,316.6 L355.8,313.7 L357.5,315.3 L359.3,315.0 L361.0,316.3 L362.3,316.9 L363.7,318.5 L365.0,319.0 L366.3,317.0 L367.6,317.1 L368.9,316.3 L370.2,312.6 L371.5,310.3 L372.8,312.9 L374.1,317.1 L375.4,315.0 L376.8,315.4 L378.1,313.7 L379.4,315.5 L380.7,318.4 L382.0,321.6 L383.3,316.8 L384.6,312.4 L385.9,312.6 L387.2,311.1 L388.8,313.7 L390.4,318.2 L392.1,316.2 L393.8,314.5 L395.1,313.9 L396.4,313.9 L397.7,312.4 L399.3,311.2 L400.9,308.5 L402.3,311.3 L403.7,312.4 L405.0,310.0 L406.4,308.3 L407.7,306.6 L409.2,305.8 L410.6,306.4 L412.1,305.1 L413.4,306.6 L414.8,305.3 L416.1,306.6 L417.8,303.9 L419.6,302.0 L421.3,300.6 L422.9,303.3 L424.4,307.2 L426.1,303.0 L427.9,298.8 L429.2,302.9 L430.5,306.6 L431.8,302.4 L433.1,299.3 L434.4,298.6 L435.7,300.0 L437.0,300.6 L438.3,302.0 L439.6,304.0 L441.2,301.5 L442.8,298.8 L444.5,298.1 L446.2,295.4 L447.5,299.1 L448.8,301.9 L450.1,301.1 L451.4,300.4 L452.7,299.3 L454.3,301.6 L455.9,303.2 L457.3,299.9 L458.7,299.4 L460.1,296.2 L461.4,299.7 L462.7,301.9 L464.2,301.4 L465.8,299.3 L467.1,298.7 L468.5,296.5 L469.8,295.4 L471.4,291.7 L472.9,288.5 L474.2,288.5 L475.5,290.5 L476.8,291.1 L478.1,289.5 L479.4,289.8 L481.1,285.2 L482.8,282.5 L484.4,284.2 L486.0,287.2 L487.6,292.4 L489.1,299.0 L491.2,293.7 L492.5,296.0 L493.8,299.0 L495.9,294.5 L497.8,302.4 L499.5,298.4 L501.2,296.3 L502.5,293.0 L503.8,291.9 L505.1,296.0 L506.4,301.6 L507.7,298.1 L509.0,296.3 L510.9,301.6 L512.2,296.0 L513.5,291.1 L514.8,292.7 L516.1,296.3 L517.4,294.5 L518.7,291.1 L520.0,290.1 L521.3,288.5 L522.6,290.3 L524.0,293.7 L525.3,291.0 L526.6,289.0 L527.9,287.2 L529.2,287.3 L530.5,287.2 L531.8,288.5 L533.1,287.8 L534.5,286.6 L535.8,284.0 L537.1,287.2 L538.4,290.4 L539.7,293.7 L541.0,290.8 L542.3,289.8 L543.6,289.8 L544.9,291.2 L546.2,292.4 L547.5,291.2 L548.9,291.1 L550.2,290.3 L551.5,287.4 L552.8,286.6 L554.1,287.1 L555.4,290.6 L556.7,291.1 L558.0,290.6 L559.3,289.1 L560.6,289.3 L562.0,293.6 L563.3,297.7 L564.6,296.2 L565.9,296.8 L567.2,296.3 L568.5,299.1 L569.8,299.7 L571.1,298.8 L572.4,296.3 L573.7,299.6 L575.1,301.6 L576.4,305.0 L577.7,302.7 L579.0,300.3 L580.3,299.0 L581.6,300.9 L582.9,301.6 L584.2,304.9 L585.5,308.1 L586.8,309.1 L588.2,308.6 L589.5,309.4 L591.0,310.8 L592.4,314.2 L593.9,315.5 L595.6,316.2 L597.3,314.7 L599.0,311.5 L600.7,306.8 L602.6,312.1 L603.9,309.2 L605.2,305.0 L606.5,311.0 L607.8,315.5 L609.5,312.6 L611.2,308.7 L612.8,309.8 L614.4,312.1 L615.7,309.8 L617.0,307.0 L618.3,305.0 L619.6,305.4 L620.9,306.9 L622.2,309.4 L623.8,308.6 L625.4,308.7 L626.7,305.0 L628.0,302.4 L629.7,303.7 L631.4,304.2 L632.7,304.1 L634.0,301.8 L635.3,300.8 L636.6,304.1 L638.0,305.5 L639.3,306.1 L640.6,305.6 L641.9,304.2 L643.2,307.9 L644.5,312.1 L646.1,306.2 L647.7,301.6 L649.7,311.3 L651.6,302.4 L652.9,306.0 L654.2,310.8 L656.3,307.6 L657.8,310.5 L659.4,314.7 L661.1,313.4 L662.9,313.4 L664.2,310.8 L665.5,307.6 L667.2,312.4 L668.9,315.5 L670.3,316.2 L671.8,315.5 L673.2,315.8 L674.6,315.5 L676.0,312.8 L677.3,308.7 L678.8,310.8 L680.4,314.7 L682.1,312.8 L683.8,310.2 L685.1,310.4 L686.4,308.7 L687.8,312.7 L689.1,315.5 L690.7,315.9 L692.4,315.1 L694.0,314.2 L695.6,314.7 L697.2,310.6 L698.8,305.3 L700.5,309.6 L702.3,314.7 L703.7,313.3 L705.1,311.5 L706.5,308.4 L708.1,309.2 L709.8,310.3 L711.4,311.6 L713.4,309.5 L714.3,273.9 L715.5,269.2 L716.8,276.0 L717.6,296.9 L719.4,301.6 L721.2,304.3 L722.8,301.1 L724.4,296.9 L726.4,299.0 L728.0,294.6 L729.6,291.7 L731.7,301.1 L733.2,297.1 L734.8,294.8 L736.0,290.9 L737.3,288.5 L738.7,294.1 L740.1,298.0 L741.9,296.6 L743.6,293.8 L745.3,298.6 L746.8,295.3 L748.4,294.3 L749.9,291.0 L751.2,293.7 L752.4,294.6 L753.7,295.9 L755.1,295.2 L756.5,295.3 L757.9,294.8 L759.1,290.0 L760.4,286.9 L762.0,286.5 L763.6,289.3 L765.2,289.0 L766.8,293.1 L768.4,296.5 L770.0,293.1 L771.5,289.6 L773.1,292.3 L774.7,293.1 L776.8,289.0 L778.3,292.3 L779.9,295.9 L781.3,295.3 L782.7,293.8 L784.1,291.7 L785.7,295.3 L787.2,300.1 L788.5,294.9 L789.7,290.2 L791.0,286.0 L792.2,289.3 L793.5,293.8 L794.8,296.6 L796.0,299.0 L797.3,293.4 L798.5,288.8 L799.8,283.9 L801.0,285.4 L802.3,288.5 L803.6,290.0 L804.8,289.3 L806.1,290.2 L807.7,287.7 L809.3,285.4 L810.8,286.6 L812.4,287.5 L814.0,285.7 L815.5,282.2 L817.6,289.0 L819.2,285.4 L820.8,282.2 L822.2,283.8 L823.6,283.6 L825.0,284.3 L826.2,280.0 L827.5,275.5 L828.9,276.3 L830.2,277.0 L831.8,277.5 L833.4,280.1 L835.0,276.3 L836.5,272.8 L837.9,270.3 L839.2,269.2 L840.5,268.9 L841.8,270.7 L843.3,270.3 L844.9,268.6 L846.5,262.1 L848.0,257.1 L849.3,261.2 L850.6,265.5 L852.0,263.9 L853.3,261.3 L854.8,263.5 L856.4,265.5 L857.6,263.0 L858.9,261.3 L860.6,268.6 L862.2,264.4 L863.8,260.2 L865.1,256.9 L866.5,253.3 L868.6,261.3 L870.4,260.0 L872.1,257.5 L873.5,259.0 L874.9,262.3 L876.3,260.3 L877.8,258.1 L879.1,257.2 L880.3,256.9 L881.6,257.1 L883.7,255.0 L885.2,257.5 L886.8,258.8 L888.4,258.0 L890.0,257.1" stroke="#0000ff" stroke-width="4.2"/>
<!-- gray bands -->
<rect x="474.4" y="202.3" width="7.3" height="339" fill="#bfbfbf" fill-opacity="0.55"/>
<rect x="551.4" y="200.8" width="7.3" height="340.5" fill="#bfbfbf" fill-opacity="0.55"/>
<!-- dash-dot -->
<line x1="715.5" y1="233.5" x2="715.5" y2="313" stroke="#333" stroke-width="1.4" stroke-dasharray="6.5,2.2,1.7,2.2" stroke-opacity="0.9"/>
<!-- annotations -->
<text transform="translate(431.8,178.8) scale(0.985,1.08)" font-size="37.5px">992</text>
<text transform="translate(516.5,179.4) scale(0.985,1.08)" font-size="37.5px">1082</text>
<text transform="translate(644,230.2) scale(1,1.06)" font-size="36px">1278</text>
<text x="738.3" y="235.9" font-size="41.2px">Fe/(SZr)</text>
<text transform="translate(739.8,459.9) scale(1,1.05)" font-size="40.8px">S(Fe/Zr)</text>
<text transform="translate(774.4,672) scale(1,0.97)" font-size="41.3px">ZrO<tspan font-size="27.5px" dy="11.9">2</tspan></text>
<text x="772.6" y="772.3" font-size="41.3px">Fe<tspan font-size="27.5px" dy="13.4">2</tspan><tspan dy="-13.4">O</tspan><tspan font-size="27.5px" dy="13.2">3</tspan></text>
<!-- inset -->
<rect x="576" y="330" width="176.6" height="155" fill="#fff"/>
<path d="M590.5,390 L575.2,469.3 L654,483.2" fill="none" stroke="#585254" stroke-width="2"/>
<circle cx="667" cy="406.5" r="77.2" fill="#fff" stroke="#505050" stroke-width="2.1"/>
<path d="M583.6,428.6 L584.5,427.1 L585.3,429.5 L586.2,426.2 L587.0,424.4 L587.9,427.7 L588.7,423.5 L589.6,427.0 L590.4,425.1 L591.3,425.8 L592.2,427.9 L593.0,430.1 L593.9,432.0 L594.8,434.1 L595.8,431.3 L596.7,430.6 L597.7,428.3 L598.6,427.1 L599.6,419.5 L600.5,421.6 L601.5,423.4 L602.4,418.4 L603.2,423.1 L604.1,419.2 L605.0,421.9 L605.8,424.9 L606.6,424.2 L607.5,426.8 L608.4,424.7 L609.2,429.3 L610.1,427.4 L610.9,426.6 L611.8,421.6 L612.6,421.1 L613.4,426.0 L614.3,421.1 L615.1,423.9 L616.0,425.9 L616.9,424.3 L617.7,426.4 L618.5,427.6 L619.4,428.4 L620.2,422.6 L621.1,426.9 L622.0,427.7 L622.8,424.5 L623.6,427.4 L624.5,424.0 L625.4,425.7 L626.2,428.3 L627.0,425.7 L627.9,424.5 L628.8,423.8 L629.6,427.0 L630.5,427.4 L631.3,432.5 L632.1,428.6 L633.0,429.9 L633.9,433.7 L634.7,433.7 L635.6,429.8 L636.4,432.3 L637.3,434.0 L638.2,429.6 L639.0,426.6 L639.9,427.1 L640.7,426.5 L641.6,425.2 L642.6,420.1 L643.6,417.5 L644.6,415.2 L645.6,415.6 L646.5,418.1 L647.3,423.1 L648.1,426.3 L649.0,432.0 L649.9,432.9 L650.9,434.5 L651.8,440.5 L652.6,439.7 L653.5,440.8 L654.4,437.9 L655.2,436.4 L656.0,435.9 L656.9,431.3 L657.8,434.0 L658.6,431.3 L659.5,431.9 L660.3,433.5 L661.1,435.0 L662.0,434.8 L662.9,434.5 L663.7,435.0 L664.5,435.7 L665.4,438.8 L666.2,439.1 L667.1,438.3 L668.0,440.1 L668.8,435.9 L669.6,438.7 L670.5,442.8 L671.4,438.3 L672.2,440.5 L673.1,442.3 L673.9,443.3 L674.8,443.1 L675.6,449.9 L676.4,446.0 L677.3,449.0 L678.1,451.1 L679.0,446.4 L679.8,445.7 L680.7,451.8 L681.5,448.5 L682.4,449.0 L683.2,455.9 L684.1,469.5 L685.0,464.4 L685.8,460.5 L686.6,458.5 L687.5,452.4 L688.4,450.6 L689.2,452.6 L690.1,459.3 L691.0,458.8 L691.8,455.5 L692.7,459.3 L693.6,456.8 L694.4,455.6 L695.2,456.8 L696.1,455.0 L697.0,455.5 L697.8,454.0 L698.6,450.4 L699.5,449.0 L700.4,453.1 L701.2,455.4 L702.0,457.8 L702.9,457.9 L703.8,462.6 L704.6,462.7 L705.5,463.4 L706.3,464.1 L707.1,457.3 L708.0,462.1 L708.9,454.6 L709.7,459.5 L710.5,457.3 L711.4,455.8 L712.2,456.7 L713.1,461.1 L714.0,458.9 L714.8,458.6 L715.6,462.3 L716.5,461.0 L717.4,462.1 L718.4,458.4 L719.3,455.0 L720.3,453.8 L721.2,452.1 L722.2,452.4 L723.1,447.4 L724.1,446.5 L725.0,445.6 L725.9,448.3 L726.7,449.3 L727.5,451.1 L728.4,456.9 L729.2,459.7 L730.1,459.3 L731.0,458.8 L731.8,457.8 L732.7,455.3 L733.5,455.7 L734.4,454.0 L735.3,456.8 L736.1,456.3 L737.0,452.0 L737.8,457.8 L738.7,454.1 L739.6,453.2 L740.4,457.6 L741.2,457.9 L742.1,459.3 L743.0,454.0 L743.8,456.1 L744.6,460.2 L745.5,457.5 L746.4,455.9 L747.2,458.4 L748.0,464.4 L748.9,466.1 L749.8,463.1 L750.6,463.3 L751.4,459.2 L752.3,454.1 L753.1,457.0 L754.0,459.3" fill="none" stroke="#008080" stroke-width="2.3" stroke-linejoin="round"/>
<line x1="707.5" y1="356.7" x2="668" y2="394.8" stroke="#000" stroke-width="2.5"/>
<polygon points="650.3,412.2 660.4,386.5 677.5,404" fill="#000"/>
<!-- axes -->
<g stroke="#000" stroke-width="4.2" fill="none">
<rect x="88.0" y="46.5" width="804.5" height="828.5"/>
</g>
<g stroke="#000" stroke-width="4" stroke-linecap="butt"><line x1="168.4" y1="875.0" x2="168.4" y2="859.5"/><line x1="329.4" y1="875.0" x2="329.4" y2="859.5"/><line x1="490.2" y1="875.0" x2="490.2" y2="859.5"/><line x1="651.1" y1="875.0" x2="651.1" y2="859.5"/><line x1="812.0" y1="875.0" x2="812.0" y2="859.5"/><line x1="248.9" y1="875.0" x2="248.9" y2="867.2"/><line x1="409.8" y1="875.0" x2="409.8" y2="867.2"/><line x1="570.7" y1="875.0" x2="570.7" y2="867.2"/><line x1="731.6" y1="875.0" x2="731.6" y2="867.2"/></g>
<g class="b" font-size="41px"><text transform="translate(168.1,926.6) scale(1.015,1.085)" text-anchor="middle">600</text><text transform="translate(329.1,926.6) scale(1.015,1.085)" text-anchor="middle">800</text><text transform="translate(489.9,926.6) scale(1.015,1.085)" text-anchor="middle">1000</text><text transform="translate(650.9,926.6) scale(1.015,1.085)" text-anchor="middle">1200</text><text transform="translate(811.8,926.6) scale(1.015,1.085)" text-anchor="middle">1400</text></g>
<g class="b" font-size="50px">
<text id="xl1" transform="translate(287.4,997.7) scale(0.966,1)">Wavenumber</text>
<text id="xl2" transform="translate(564.6,997.6) scale(1.3,1)" font-size="63px" stroke="#fff" stroke-width="1.6">(</text>
<text id="xl3" transform="translate(589.8,997.7) scale(0.94,1)">cm</text>
<text id="xl4" x="650.7" y="967.6" font-size="29px">-1</text>
<text id="xl5" transform="translate(671.6,997.6) scale(1.3,1)" font-size="63px" stroke="#fff" stroke-width="1.6">)</text>
<text id="yl" transform="translate(51.6,566.1) rotate(-90) scale(1.01,1)">Intensity<tspan font-size="47.5px">(</tspan>a.u.<tspan font-size="47.5px">)</tspan></text>
</g>
</svg>
</body></html>
